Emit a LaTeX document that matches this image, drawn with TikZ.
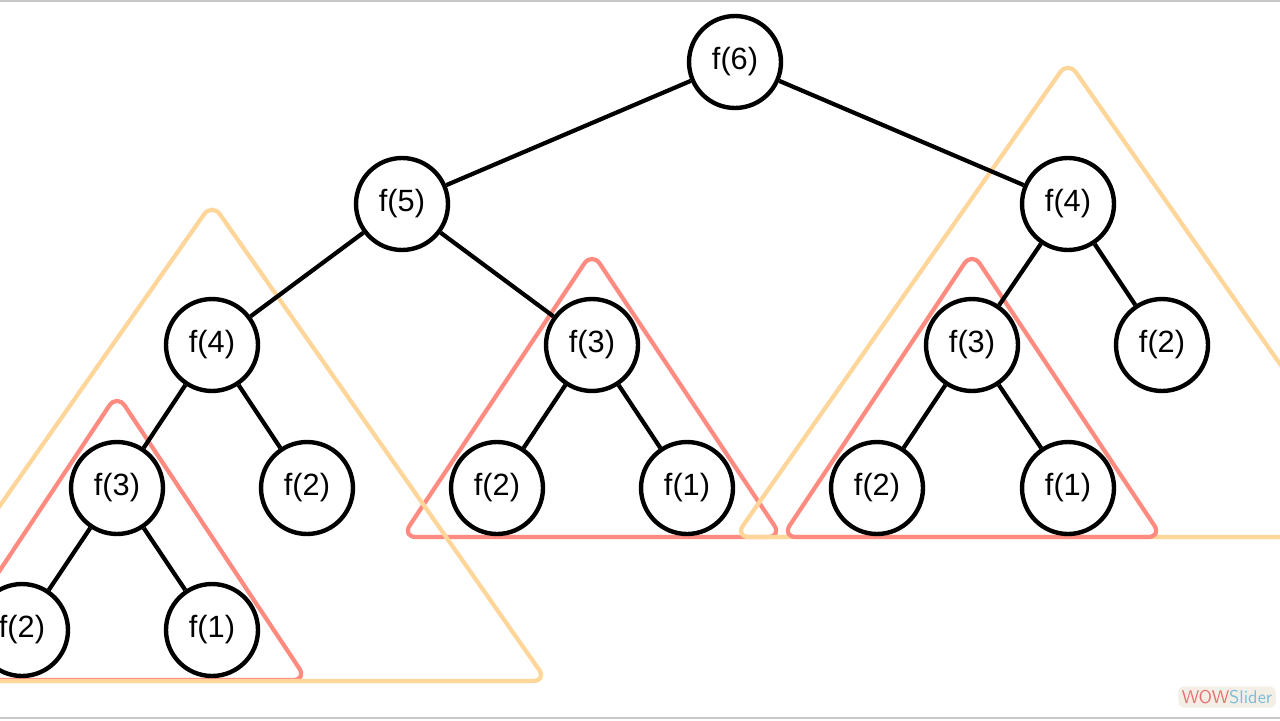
\documentclass[tikz,border=0pt]{standalone}
\usepackage{fontspec}
\setmainfont{Liberation Sans}
\definecolor{subcolA}{RGB}{255,214,153}
\definecolor{subcolB}{RGB}{255,138,128}
\definecolor{framegray}{RGB}{200,200,200}
\definecolor{wowred}{RGB}{232,112,112}
\definecolor{wowblue}{RGB}{125,190,215}
\definecolor{wowbg}{RGB}{243,239,231}

\begin{document}
\begin{tikzpicture}[
  x=0.02cm, y=-0.02cm,
  every node/.style={font=\fontsize{17.5}{20}\selectfont},
  call/.style={circle, draw=black, line width=2.5pt, minimum size=1.84cm, inner sep=0pt},
  edge/.style={black, line width=2.4pt},
  tri/.style={line width=2.4pt, rounded corners=8pt, line join=round},
  bigtri/.style={tri, draw=subcolA},
  smalltri/.style={tri, draw=subcolB},
]
\clip (0,0) rectangle (1280,720);
\fill[white] (0,0) rectangle (1280,720);
\draw[framegray, line width=1.2pt] (0,1) -- (1280,1);
\draw[framegray, line width=1.2pt] (0,718) -- (1280,718);

%% Repeated subtrees
\draw[smalltri] (117,394) -- (307,680) -- (-73,680) -- cycle;
\draw[smalltri] (592,252) -- (782,537) -- (402,537) -- cycle;
\draw[bigtri]   (212,203) -- (547,681) -- (-123,681) -- cycle;
\draw[bigtri]   (1068,61) -- (1401,537) -- (735,537) -- cycle;
\draw[smalltri] (972,252) -- (1162,537) -- (782,537) -- cycle;

%% Root
\node[call] (f6) at (735,62) {f(6)};

%% Level 1
\node[call] (f5)  at (402,204)  {f(5)};
\node[call] (f4r) at (1068,204) {f(4)};

%% Level 2
\node[call] (f4l) at (212,345)  {f(4)};
\node[call] (f3m) at (592,345)  {f(3)};
\node[call] (f3r) at (972,345)  {f(3)};
\node[call] (f2r) at (1162,345) {f(2)};

%% Level 3
\node[call] (f3l)  at (117,488)  {f(3)};
\node[call] (f2l)  at (307,488)  {f(2)};
\node[call] (f2m)  at (497,488)  {f(2)};
\node[call] (f1m)  at (687,488)  {f(1)};
\node[call] (f2rr) at (877,488)  {f(2)};
\node[call] (f1rr) at (1068,488) {f(1)};

%% Level 4
\node[call] (f2ll) at (22,630)  {f(2)};
\node[call] (f1ll) at (212,630) {f(1)};

\draw[edge] (f6) -- (f5);
\draw[edge] (f6) -- (f4r);
\draw[edge] (f5) -- (f4l);
\draw[edge] (f5) -- (f3m);
\draw[edge] (f4r) -- (f3r);
\draw[edge] (f4r) -- (f2r);
\draw[edge] (f4l) -- (f3l);
\draw[edge] (f4l) -- (f2l);
\draw[edge] (f3m) -- (f2m);
\draw[edge] (f3m) -- (f1m);
\draw[edge] (f3r) -- (f2rr);
\draw[edge] (f3r) -- (f1rr);
\draw[edge] (f3l) -- (f2ll);
\draw[edge] (f3l) -- (f1ll);

%% Watermark
\node[fill=wowbg, rounded corners=3pt, inner sep=2pt, minimum width=1.54cm, minimum height=0.42cm,
      font=\fontsize{10.5}{12}\sffamily] (wow) at (1227,697)
  {\textcolor{wowred}{WOW}\textcolor{wowblue}{Slider}};
\end{tikzpicture}
\end{document}
